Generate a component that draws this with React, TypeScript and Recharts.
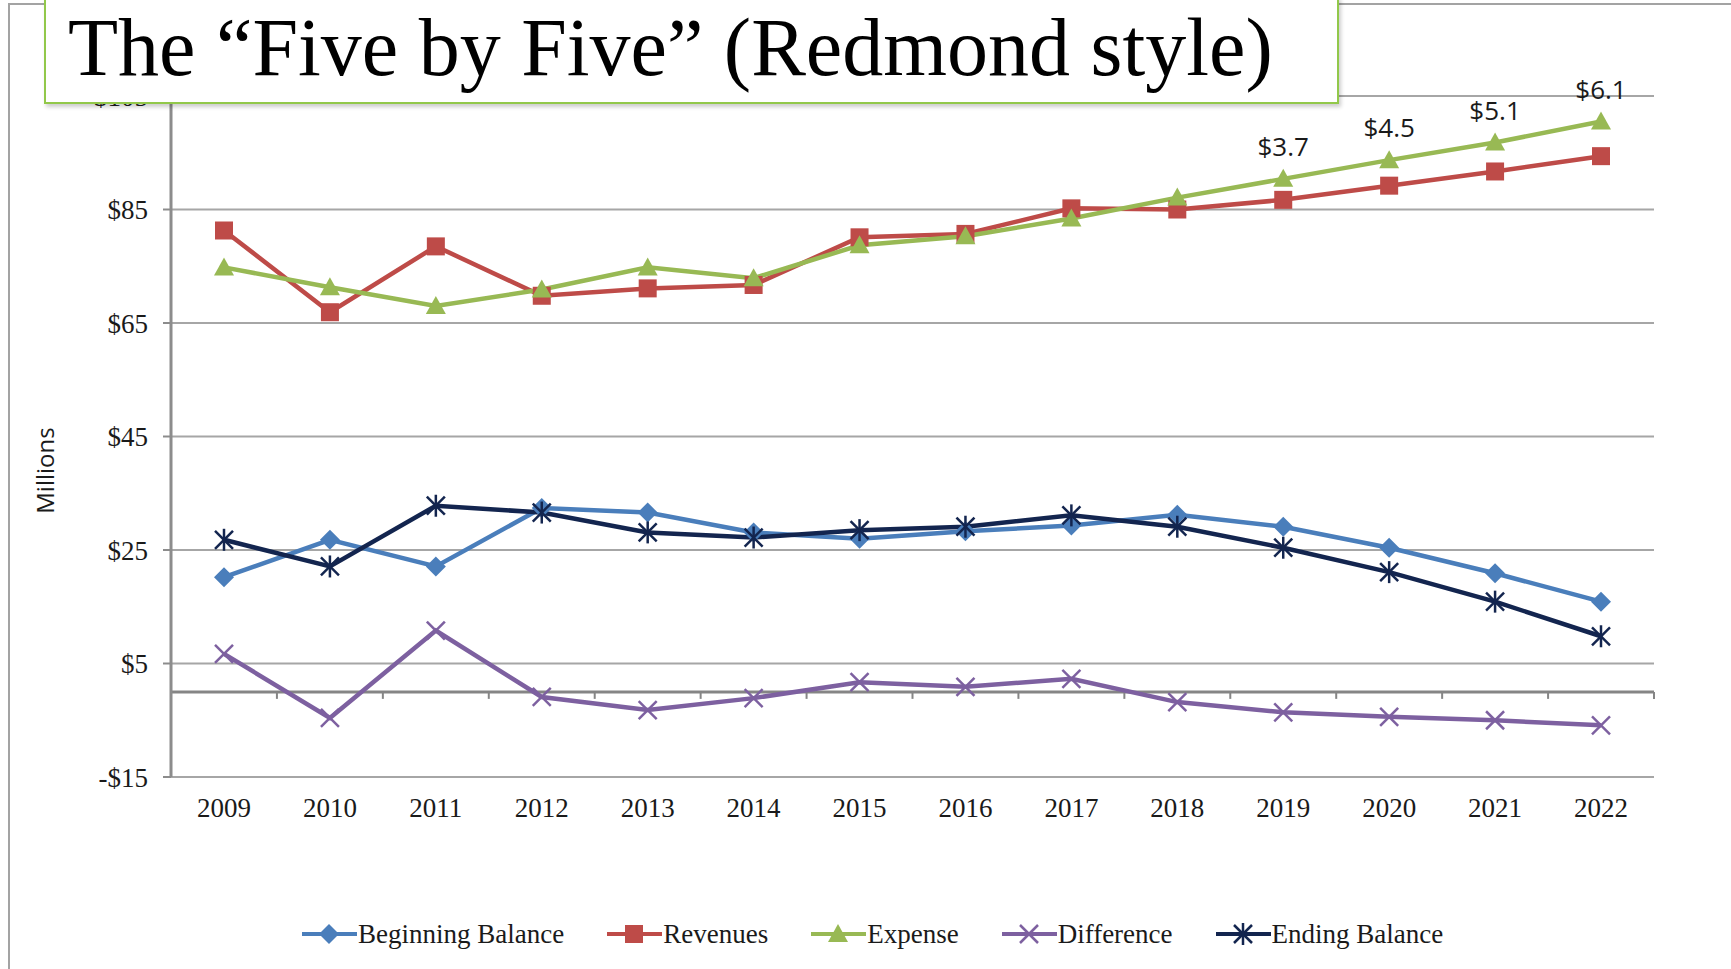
import { LineChart, Line, XAxis, YAxis, CartesianGrid, ReferenceLine, LabelList } from 'recharts'

const years = ['2009', '2010', '2011', '2012', '2013', '2014', '2015', '2016', '2017', '2018', '2019', '2020', '2021', '2022']
const beginningBalance = [20.2, 26.8, 22.1, 32.4, 31.6, 28.1, 27.0, 28.3, 29.3, 31.2, 29.1, 25.4, 20.9, 15.9]
const revenues = [81.3, 66.9, 78.5, 69.8, 71.1, 71.7, 80.1, 80.7, 85.2, 85.0, 86.7, 89.2, 91.7, 94.4]
const expense = [74.8, 71.3, 68.0, 70.9, 74.8, 72.9, 78.7, 80.3, 83.4, 87.1, 90.4, 93.7, 96.8, 100.5]
const difference = [6.7, -4.6, 10.8, -0.9, -3.2, -1.1, 1.7, 0.9, 2.3, -1.8, -3.6, -4.4, -5.0, -5.9]
const endingBalance = [26.8, 22.1, 32.8, 31.6, 28.1, 27.2, 28.5, 29.1, 31.1, 29.1, 25.4, 21.1, 15.9, 9.8]
const gapLabels = ['', '', '', '', '', '', '', '', '', '', '$3.7', '$4.5', '$5.1', '$6.1']
const yTicks = [-15, 5, 25, 45, 65, 85, 105]

const COLORS = {
  begin: '#4a7ebb',
  rev: '#be4b48',
  exp: '#98b954',
  diff: '#7d60a0',
  end: '#13254f',
}

const data = years.map((year, i) => ({
  year,
  begin: beginningBalance[i],
  rev: revenues[i],
  exp: expense[i],
  diff: difference[i],
  end: endingBalance[i],
  gap: gapLabels[i],
}))

type Shape = 'diamond' | 'square' | 'triangle' | 'x' | 'star'

function Marker({ cx, cy, shape, color }: { cx: number; cy: number; shape: Shape; color: string }) {
  if (shape === 'diamond') {
    const r = 10
    return <polygon points={`${cx},${cy - r} ${cx + r},${cy} ${cx},${cy + r} ${cx - r},${cy}`} fill={color} />
  }
  if (shape === 'square') {
    return <rect x={cx - 9} y={cy - 9} width={18} height={18} fill={color} />
  }
  if (shape === 'triangle') {
    return <polygon points={`${cx},${cy - 10} ${cx + 10},${cy + 8} ${cx - 10},${cy + 8}`} fill={color} />
  }
  const r = 9
  return (
    <g stroke={color} strokeWidth={2.5}>
      <line x1={cx - r} y1={cy - r} x2={cx + r} y2={cy + r} />
      <line x1={cx - r} y1={cy + r} x2={cx + r} y2={cy - r} />
      {shape === 'star' && <line x1={cx} y1={cy - r - 2} x2={cx} y2={cy + r + 2} />}
    </g>
  )
}

function dotFor(shape: Shape, color: string) {
  return (p: any) => <Marker key={p.index} cx={p.cx} cy={p.cy} shape={shape} color={color} />
}

function GapLabel(props: any) {
  const { x, y, value } = props
  if (!value) return null
  return (
    <text x={x} y={y - 23} textAnchor="middle" fontFamily="'Open Sans', sans-serif" fontSize={26} fill="#1a1a1a">
      {value}
    </text>
  )
}

function ZeroAxis(props: any) {
  const { x1, y1, x2, y2 } = props
  const step = (x2 - x1) / years.length
  return (
    <g>
      <line x1={x1} y1={y1} x2={x2} y2={y2} stroke="#858585" strokeWidth={3} />
      {years.map((_, i) => (
        <line key={i} x1={x1 + step * (i + 1)} y1={y1} x2={x1 + step * (i + 1)} y2={y1 + 7} stroke="#858585" strokeWidth={2} />
      ))}
    </g>
  )
}

const series: { key: string; name: string; shape: Shape; color: string }[] = [
  { key: 'begin', name: 'Beginning Balance', shape: 'diamond', color: COLORS.begin },
  { key: 'rev', name: 'Revenues', shape: 'square', color: COLORS.rev },
  { key: 'exp', name: 'Expense', shape: 'triangle', color: COLORS.exp },
  { key: 'diff', name: 'Difference', shape: 'x', color: COLORS.diff },
  { key: 'end', name: 'Ending Balance', shape: 'star', color: COLORS.end },
]

export default function App() {
  return (
    <div style={{ position: 'absolute', left: 0, top: 0, width: 1731, height: 969, background: '#fff', overflow: 'hidden' }}>
      <div style={{ position: 'absolute', left: 8, top: 3, width: 2, height: 966, background: '#a3a3a3' }} />
      <div style={{ position: 'absolute', left: 8, top: 3, width: 1723, height: 2, background: '#a3a3a3' }} />

      <div style={{ position: 'absolute', left: 0, top: 0 }}>
        <LineChart width={1731} height={969} data={data} margin={{ top: 96, right: 77, bottom: 152, left: 71 }}>
          <CartesianGrid vertical={false} stroke="#a6a6a6" strokeWidth={2} />
          <XAxis
            dataKey="year"
            axisLine={false}
            tickLine={false}
            tickSize={0}
            tickMargin={21}
            height={40}
            interval={0}
            padding={{ left: 53, right: 53 }}
            tick={{ fontFamily: "'Liberation Serif', serif", fontSize: 27, fill: '#1a1a1a' }}
          />
          <YAxis
            domain={[-15, 105]}
            ticks={yTicks}
            width={100}
            interval={0}
            tickFormatter={(v: number) => (v < 0 ? `-$${-v}` : `$${v}`)}
            axisLine={{ stroke: '#8c8c8c', strokeWidth: 3 }}
            tickLine={{ stroke: '#8c8c8c', strokeWidth: 2 }}
            tickSize={8}
            tickMargin={15}
            tick={{ fontFamily: "'Liberation Serif', serif", fontSize: 27, fill: '#1a1a1a' }}
          />
          <ReferenceLine y={0} shape={ZeroAxis} />
          {series.map((s) => (
            <Line
              key={s.key}
              type="linear"
              dataKey={s.key}
              name={s.name}
              stroke={s.color}
              strokeWidth={4.5}
              dot={dotFor(s.shape, s.color)}
              activeDot={false}
              isAnimationActive={false}
            >
              {s.key === 'exp' && <LabelList dataKey="gap" content={GapLabel} />}
            </Line>
          ))}
        </LineChart>
      </div>

      <div
        style={{
          position: 'absolute',
          left: 22,
          top: 470,
          width: 44,
          height: 0,
          display: 'flex',
          alignItems: 'center',
          justifyContent: 'center',
        }}
      >
        <div style={{ transform: 'rotate(-90deg)', fontFamily: "'Open Sans', sans-serif", fontSize: 24, color: '#1a1a1a', whiteSpace: 'nowrap' }}>
          Millions
        </div>
      </div>

      <div
        style={{
          position: 'absolute',
          left: 301,
          top: 916,
          height: 36,
          display: 'flex',
          alignItems: 'center',
          gap: 42,
          fontFamily: "'Liberation Serif', serif",
          fontSize: 27,
          color: '#1a1a1a',
          lineHeight: 1,
          whiteSpace: 'nowrap',
        }}
      >
        {series.map((s) => (
          <div key={s.key} style={{ display: 'flex', alignItems: 'center' }}>
            <svg width={57} height={24}>
              <line x1={1} y1={12} x2={56} y2={12} stroke={s.color} strokeWidth={4} />
              <Marker cx={28} cy={12} shape={s.shape} color={s.color} />
            </svg>
            <span>{s.name}</span>
          </div>
        ))}
      </div>

      <div
        style={{
          position: 'absolute',
          left: 44,
          top: -4,
          width: 1291,
          height: 104,
          border: '2px solid #92c84a',
          background: '#fff',
          boxShadow: '2px 3px 4px rgba(0,0,0,0.2)',
        }}
      >
        <svg width={1291} height={104}>
          <text x={22} y={77} fontFamily="'Liberation Serif', serif" fontSize={82} fill="#000">
            The “Five by Five” (Redmond style)
          </text>
        </svg>
      </div>
    </div>
  )
}
